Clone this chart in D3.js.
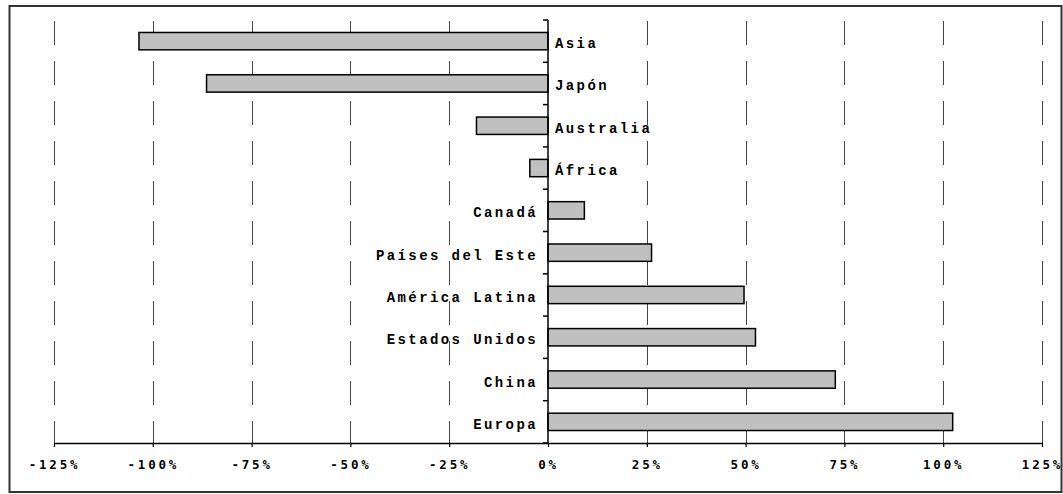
<!DOCTYPE html>
<html>
<head>
  <meta charset="utf-8">
  <script src="https://d3js.org/d3.v7.min.js"></script>
  <style>
    body { margin: 0; background: #fff; }
    .tick-label { font-family: "DejaVu Sans Mono", monospace; font-weight: bold; font-size: 12.5px; letter-spacing: 2.8px; }
    .cat-label { font-family: "Liberation Mono", "Courier New", monospace; font-weight: bold; font-size: 14px; letter-spacing: 2.4px; }
  </style>
</head>
<body>
<div id="chart"></div>
<script>

    // regions, top to bottom
    const regions = ["Asia", "Japón", "Australia", "África", "Canadá", "Países del Este",
                     "América Latina", "Estados Unidos", "China", "Europa"]
    // change in %
    const values = [-103.5, -86.4, -18.1, -4.6, 9.2, 26.2, 49.6, 52.5, 72.7, 102.4]
    const ticks = [-125, -100, -75, -50, -25, 0, 25, 50, 75, 100, 125]

    const data = regions.map((r, i) => ({ region: r, value: values[i] }))

    const width = 1063,
        height = 494

    const margin = { top: 20, right: 21, bottom: 51, left: 54 },
        innerWidth = width - margin.left - margin.right,
        innerHeight = height - margin.top - margin.bottom

    const svg = d3.select("#chart").append("svg")
        .attr("width", width)
        .attr("height", height)

    // outer frame
    svg.append("rect")
        .attr("x", 9.5).attr("y", 6)
        .attr("width", 1052).attr("height", 486)
        .attr("fill", "none")
        .attr("stroke", "#333")
        .attr("stroke-width", 2)

    const x = d3.scaleLinear()
        .domain([-125, 125])
        .range([margin.left, margin.left + innerWidth])

    const y = d3.scaleBand()
        .domain(regions)
        .range([margin.top, margin.top + innerHeight])
        .paddingInner(0.59)
        .paddingOuter(0.295)

    // dashed vertical grid
    svg.append("g")
        .selectAll("line")
        .data(ticks.filter(t => t !== 0))
        .join("line")
        .attr("x1", d => Math.round(x(d)) + 0.5)
        .attr("x2", d => Math.round(x(d)) + 0.5)
        .attr("y1", margin.top + 1)
        .attr("y2", margin.top + innerHeight)
        .attr("stroke", "#444")
        .attr("stroke-width", 1)
        .attr("stroke-dasharray", "24,16")

    // bars
    svg.append("g")
        .selectAll("rect")
        .data(data)
        .join("rect")
        .attr("x", d => x(Math.min(0, d.value)))
        .attr("y", d => y(d.region))
        .attr("width", d => Math.abs(x(d.value) - x(0)))
        .attr("height", y.bandwidth())
        .attr("fill", "#c0c0c0")
        .attr("stroke", "#000")
        .attr("stroke-width", 1.5)

    // x axis
    const xAxis = svg.append("g")
        .attr("transform", `translate(0, ${margin.top + innerHeight})`)
        .call(d3.axisBottom(x).tickValues(ticks).tickSize(4).tickSizeOuter(0).tickFormat(d => d + "%"))
    xAxis.attr("font-family", null).attr("font-size", null)
    xAxis.select(".domain").attr("stroke", "#000").attr("stroke-width", 1.5)
    xAxis.selectAll(".tick line").attr("stroke", "#000").attr("stroke-width", 1.2)
    xAxis.selectAll(".tick text")
        .attr("class", "tick-label")
        .attr("y", 17)
        .attr("fill", "#000")

    // category axis at zero: ticks at band boundaries
    const step = y.step()
    const bounds = d3.range(regions.length + 1).map(i => margin.top + innerHeight - i * step)
    svg.append("g")
        .selectAll("line")
        .data(bounds)
        .join("line")
        .attr("x1", x(0) - 5)
        .attr("x2", x(0))
        .attr("y1", d => d)
        .attr("y2", d => d)
        .attr("stroke", "#000")
        .attr("stroke-width", 1.5)

    svg.append("line")
        .attr("x1", x(0)).attr("x2", x(0))
        .attr("y1", margin.top).attr("y2", margin.top + innerHeight)
        .attr("stroke", "#000")
        .attr("stroke-width", 1.5)

    // region labels, on the opposite side of the bar
    svg.append("g")
        .selectAll("text")
        .data(data)
        .join("text")
        .attr("class", "cat-label")
        .attr("x", d => d.value < 0 ? x(0) + 7 : x(0) - 10)
        .attr("y", d => y(d.region) + y.bandwidth() / 2 + 7)
        .attr("text-anchor", d => d.value < 0 ? "start" : "end")
        .text(d => d.region)

</script>
</body>
</html>
